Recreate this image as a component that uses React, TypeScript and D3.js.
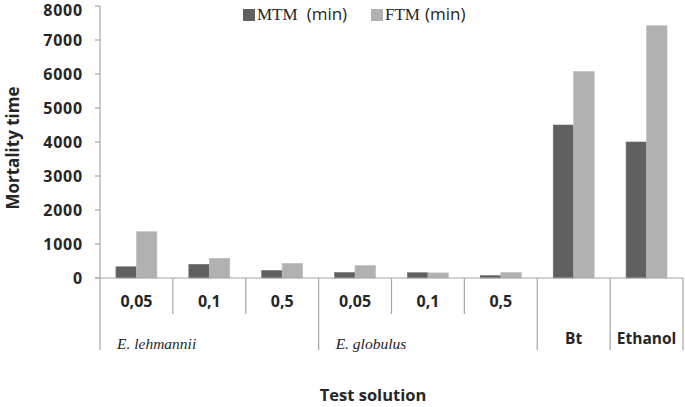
import React from "react";
import * as d3 from "d3";

const categories = ["0,05", "0,1", "0,5", "0,05", "0,1", "0,5", "Bt", "Ethanol"];
const mtmValues = [330, 400, 220, 160, 155, 70, 4500, 4000];
const ftmValues = [1360, 580, 430, 370, 150, 160, 6070, 7420];
const yTicks = [0, 1000, 2000, 3000, 4000, 5000, 6000, 7000, 8000];
const seriesNames = ["MTM", "FTM"];
const groupLabels = ["E. lehmannii", "E. globulus"];

const W = 685;
const H = 407;
const left = 100;
const right = 683;
const y0 = 278;
const yTop = 6;

export default function App() {
  const x = d3
    .scaleBand<number>()
    .domain(categories.map((_, i) => i))
    .range([left, right])
    .paddingInner(0)
    .paddingOuter(0);
  const y = d3.scaleLinear().domain([0, 8000]).range([y0, yTop]);
  const inner = d3
    .scaleBand<string>()
    .domain(seriesNames)
    .range([0, x.bandwidth()])
    .paddingInner(0)
    .paddingOuter(0.78);

  const axisColor = "#a6a6a6";
  const textColor = "#262626";
  const dark = "#606060";
  const light = "#b1b1b1";
  const sans = "'Open Sans', 'Noto Sans', sans-serif";
  const serif = "'Liberation Serif', 'DejaVu Serif', serif";

  const boundaries = d3.range(categories.length + 1).map((i) =>
    i < categories.length ? (x(i) as number) : right
  );
  const longLines = new Set([0, 3, 6, 7, 8]);

  return (
    <div style={{ position: "fixed", left: 0, top: 0 }}>
      <svg width={W} height={H} style={{ display: "block", background: "#fff" }}>
        {/* bars */}
        {categories.map((c, i) => (
          <g key={i}>
            {[mtmValues[i], ftmValues[i]].map((v, j) => {
              const bx = (x(i) as number) + (inner(seriesNames[j]) as number);
              return (
                <rect
                  key={j}
                  x={bx}
                  y={y(v)}
                  width={inner.bandwidth()}
                  height={y0 - y(v)}
                  fill={j === 0 ? dark : light}
                  stroke={j === 0 ? "#6e6e6e" : "#bdbdbd"}
                  strokeWidth={0.6}
                />
              );
            })}
          </g>
        ))}
        {/* y axis */}
        <line x1={left} x2={left} y1={yTop} y2={350} stroke={axisColor} strokeWidth={1.2} />
        {yTicks.map((t) => (
          <g key={t}>
            <line x1={left - 5} x2={left} y1={y(t)} y2={y(t)} stroke={axisColor} strokeWidth={1.2} />
            <text
              x={83}
              y={Math.max(y(t), 10)}
              dy="0.36em"
              textAnchor="end"
              fontFamily={sans}
              fontWeight="bold"
              fontSize={16}
              letterSpacing={0.8}
              fill={textColor}
            >
              {t}
            </text>
          </g>
        ))}
        {/* x axis */}
        <line x1={left - 5} x2={right} y1={y0} y2={y0} stroke={axisColor} strokeWidth={1.2} />
        {boundaries.map((bx, i) =>
          i === 0 ? null : (
            <line
              key={i}
              x1={bx}
              x2={bx}
              y1={y0}
              y2={longLines.has(i) ? 350 : 314}
              stroke={axisColor}
              strokeWidth={1.2}
            />
          )
        )}
        {categories.map((c, i) =>
          i < 6 ? (
            <text
              key={i}
              x={(x(i) as number) + x.bandwidth() / 2}
              y={307}
              textAnchor="middle"
              fontFamily={sans}
              fontWeight="bold"
              fontSize={16}
              fill={textColor}
            >
              {c}
            </text>
          ) : (
            <text
              key={i}
              x={(x(i) as number) + x.bandwidth() / 2}
              y={344}
              textAnchor="middle"
              fontFamily={sans}
              fontWeight="bold"
              fontSize={15.5}
              fill={textColor}
            >
              {c}
            </text>
          )
        )}
        {groupLabels.map((g, k) => (
          <text
            key={g}
            x={(x(k * 3) as number) + 17}
            y={349}
            fontFamily={serif}
            fontStyle="italic"
            fontSize={15.5}
            fill={textColor}
          >
            {g}
          </text>
        ))}
        {/* axis titles */}
        <text
          transform={`translate(19,148) rotate(-90)`}
          textAnchor="middle"
          fontFamily={sans}
          fontWeight="bold"
          fontSize={17}
          fill={textColor}
        >
          Mortality time
        </text>
        <text
          x={373}
          y={401}
          textAnchor="middle"
          fontFamily={sans}
          fontWeight="bold"
          fontSize={16.5}
          fill={textColor}
        >
          Test solution
        </text>
        {/* legend */}
        <rect x={243} y={9} width={12} height={12} fill={dark} />
        <text x={257} y={20} fontSize={17} fill={textColor}>
          <tspan fontFamily={serif}>MTM</tspan>
          <tspan fontFamily={sans} dx={9}>(min)</tspan>
        </text>
        <rect x={371} y={9} width={12} height={12} fill={light} />
        <text x={385} y={20} fontSize={17} fill={textColor}>
          <tspan fontFamily={serif}>FTM</tspan>
          <tspan fontFamily={sans} dx={5}>(min)</tspan>
        </text>
      </svg>
    </div>
  );
}
